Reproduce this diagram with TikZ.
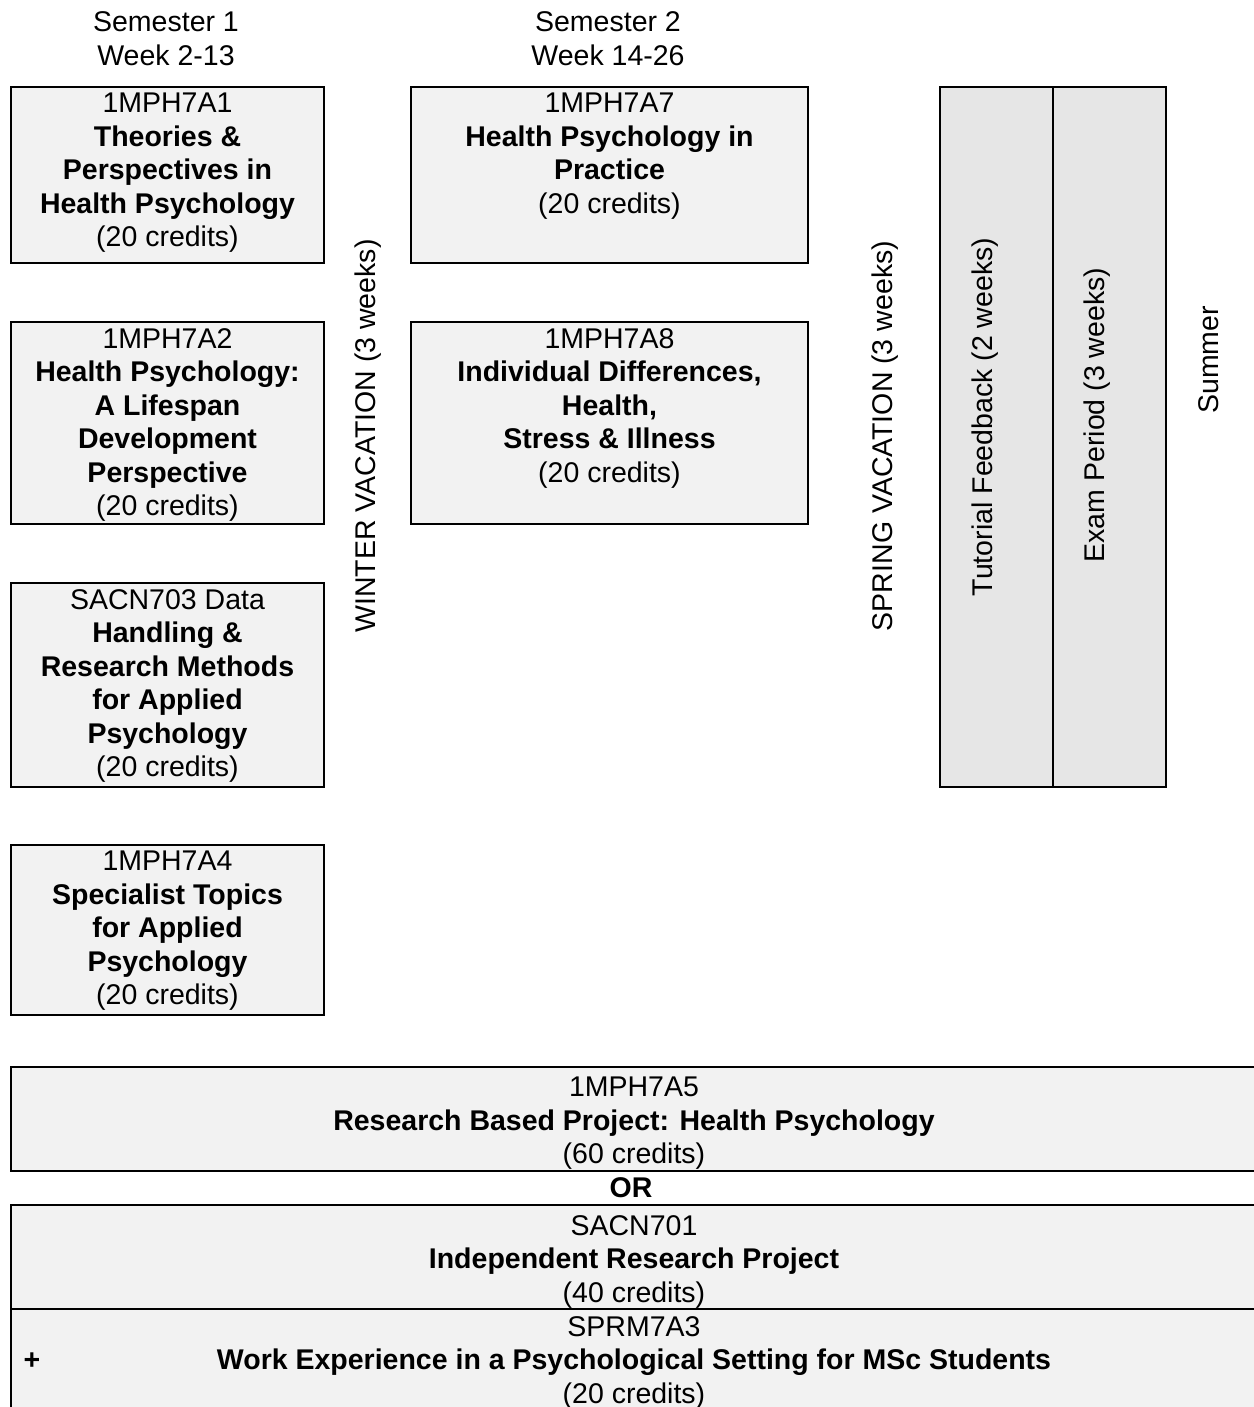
\documentclass[tikz,border=0pt]{standalone}
\usepackage{fontspec}
\setmainfont{Liberation Sans}
\usetikzlibrary{positioning}
\definecolor{boxgrey}{HTML}{F2F2F2}
\definecolor{examgrey}{HTML}{E6E6E6}

\begin{document}
\begin{tikzpicture}[x=1pt,y=-1pt,
    every node/.style={inner sep=0pt, font=\fontsize{28.5}{33.5}\selectfont},
    modbox/.style={draw=black, line width=2pt, fill=boxgrey, anchor=north west, minimum width=313pt},
    modtext/.style={align=center},
    vert/.style={rotate=90}]
    \useasboundingbox (0,0) rectangle (1253,1407);

    % semester headings
    \node (sem1) at (166,22) {Semester 1};
    \node (wk1) at (166,55) {Week 2-13};
    \node (sem2) at (608,22) {Semester 2};
    \node (wk2) at (608,55) {Week 14-26};

    % semester 1
    \node[modbox, minimum height=176pt] (a1) at (10,86) {};
    \node[modtext, below=7pt of a1.north] (a1t) {1MPH7A1\\\textbf{Theories \&}\\\textbf{Perspectives in}\\\textbf{Health Psychology}\\(20 credits)};
    \node[modbox, minimum height=202pt] (a2) at (10,321) {};
    \node[modtext, below=7pt of a2.north] (a2t) {1MPH7A2\\\textbf{Health Psychology:}\\\textbf{A Lifespan}\\\textbf{Development}\\\textbf{Perspective}\\(20 credits)};
    \node[modbox, minimum height=204pt] (s703) at (10,582) {};
    \node[modtext, below=7pt of s703.north] (s703t) {SACN703 Data\\\textbf{Handling \&}\\\textbf{Research Methods}\\\textbf{for Applied}\\\textbf{Psychology}\\(20 credits)};
    \node[modbox, minimum height=170pt] (a4) at (10,844) {};
    \node[modtext, below=7pt of a4.north] (a4t) {1MPH7A4\\\textbf{Specialist Topics}\\\textbf{for Applied}\\\textbf{Psychology}\\(20 credits)};

    \node[vert] (winter) at (368,436) {WINTER VACATION (3 weeks)};

    % semester 2
    \node[modbox, minimum width=397pt, minimum height=176pt] (a7) at (410,86) {};
    \node[modtext, below=7pt of a7.north] (a7t) {1MPH7A7\\\textbf{Health Psychology in}\\\textbf{Practice}\\(20 credits)};
    \node[modbox, minimum width=397pt, minimum height=202pt] (a8) at (410,321) {};
    \node[modtext, below=7pt of a8.north] (a8t) {1MPH7A8\\\textbf{Individual Differences,}\\\textbf{Health,}\\\textbf{Stress \& Illness}\\(20 credits)};

    \node[vert] (spring) at (885,436) {SPRING VACATION (3 weeks)};

    % feedback and exams
    \node[modbox, fill=examgrey, minimum width=113pt, minimum height=700pt] (tut) at (939,86) {};
    \node[modbox, fill=examgrey, minimum width=113pt, minimum height=700pt] (exam) at (1052,86) {};
    \node[vert] (tutt) at (985,417) {Tutorial Feedback (2 weeks)};
    \node[vert] (examt) at (1097,415) {Exam Period (3 weeks)};
    \node[vert] (summer) at (1209,360) {Summer};

    % projects
    \node[modbox, minimum width=1246pt, minimum height=104pt] (a5) at (10,1066) {};
    \node[modtext, below=11pt of a5.north] (a5t) {1MPH7A5\\\textbf{Research Based Project: Health Psychology}\\(60 credits)};
    \node (or) at (631,1188) {\textbf{OR}};
    \node[modbox, minimum width=1246pt, minimum height=104pt] (s701) at (10,1204) {};
    \node[modtext, below=11pt of s701.north] (s701t) {SACN701\\\textbf{Independent Research Project}\\(40 credits)};
    \node[modbox, minimum width=1246pt, minimum height=106pt] (s7a3) at (10,1308) {};
    \node[modtext, below=8pt of s7a3.north] (s7a3t) {SPRM7A3\\\textbf{Work Experience in a Psychological Setting for MSc Students}\\(20 credits)};
    \node (plus) at (32,1361) {\textbf{+}};
\end{tikzpicture}
\end{document}
